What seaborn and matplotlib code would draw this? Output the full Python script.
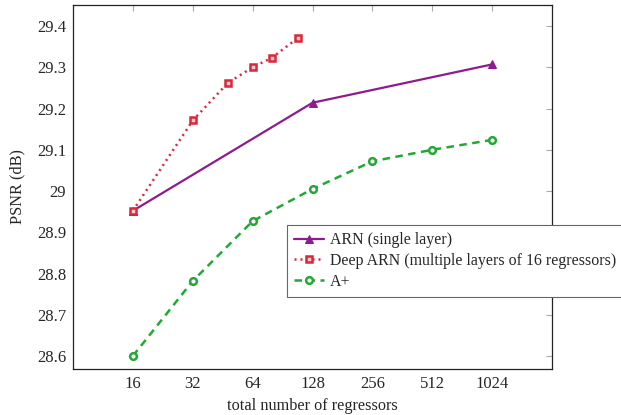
import numpy as np
import pandas as pd
import matplotlib
matplotlib.use("Agg")
import matplotlib.pyplot as plt
from matplotlib.ticker import FixedLocator, NullLocator
import seaborn as sns

# values
arn_x = [16, 128, 1024]
arn_y = [28.952, 29.214, 29.307]

deep_x = [16, 32, 48, 64, 80, 108]
deep_y = [28.952, 29.171, 29.262, 29.300, 29.323, 29.371]

aplus_x = [16, 32, 64, 128, 256, 512, 1024]
aplus_y = [28.600, 28.782, 28.927, 29.005, 29.072, 29.100, 29.124]

x_ticks = [16, 32, 64, 128, 256, 512, 1024]
y_ticks = [28.6, 28.7, 28.8, 28.9, 29.0, 29.1, 29.2, 29.3, 29.4]
y_tick_labels = ["28.6", "28.7", "28.8", "28.9", "29", "29.1", "29.2", "29.3", "29.4"]

labels = ["ARN (single layer)",
          "Deep ARN (multiple layers of 16 regressors)",
          "A+"]

sns.set_style("white")
plt.rcParams['font.family'] = ['Liberation Serif', 'DejaVu Serif']

purple = '#8f1c8c'
red = '#d8283c'
green = '#22a834'

fig = plt.figure(figsize=(6.21, 4.15), dpi=100)
ax = fig.add_axes([73 / 621, 1 - 369 / 415, (552 - 73) / 621, (369 - 5) / 415])

sns.lineplot(x=arn_x, y=arn_y, ax=ax, color=purple, linewidth=1.6,
             marker='^', markersize=5.5, markeredgecolor=purple,
             markerfacecolor=purple, label=labels[0])
sns.lineplot(x=deep_x, y=deep_y, ax=ax, color=red, linewidth=1.8,
             linestyle=(0, (0.8, 1.6)), marker='s', markersize=4.8,
             markeredgecolor=red, markerfacecolor='#f6c7cc',
             markeredgewidth=1.8, label=labels[1])
sns.lineplot(x=aplus_x, y=aplus_y, ax=ax, color=green, linewidth=1.8,
             linestyle=(0, (3, 2.2)), marker='o', markersize=4.8,
             markeredgecolor=green, markerfacecolor='white',
             markeredgewidth=1.8, label=labels[2])

ax.set_xscale('log', base=2)
ax.set_xlim(8, 2048)
ax.set_ylim(28.5685, 29.451)
ax.xaxis.set_major_locator(FixedLocator(x_ticks))
ax.xaxis.set_minor_locator(NullLocator())
ax.set_xticks(x_ticks)
ax.set_xticklabels([str(t) for t in x_ticks])
ax.set_yticks(y_ticks)
ax.set_yticklabels(y_tick_labels)

ax.tick_params(axis='both', which='major', direction='in', length=4,
               width=0.8, color='#aaaaaa', labelsize=12,
               top=True, right=True, pad=5)
for sp in ax.spines.values():
    sp.set_color('#222222')
    sp.set_linewidth(0.9)

ax.set_xlabel('total number of regressors', fontsize=11.7, labelpad=4)
ax.set_ylabel('PSNR (dB)', fontsize=11.7, labelpad=8)

leg = ax.legend(loc='upper left', bbox_to_anchor=(286.7 / 621, 1 - 225 / 415),
                bbox_transform=fig.transFigure, fontsize=11.4, frameon=True,
                fancybox=False, framealpha=1, edgecolor='#666666',
                handlelength=1.9, handletextpad=0.4, labelspacing=0.3,
                borderpad=0.45, borderaxespad=0)
leg.get_frame().set_linewidth(0.8)

fig.savefig('out.png', dpi=100)
